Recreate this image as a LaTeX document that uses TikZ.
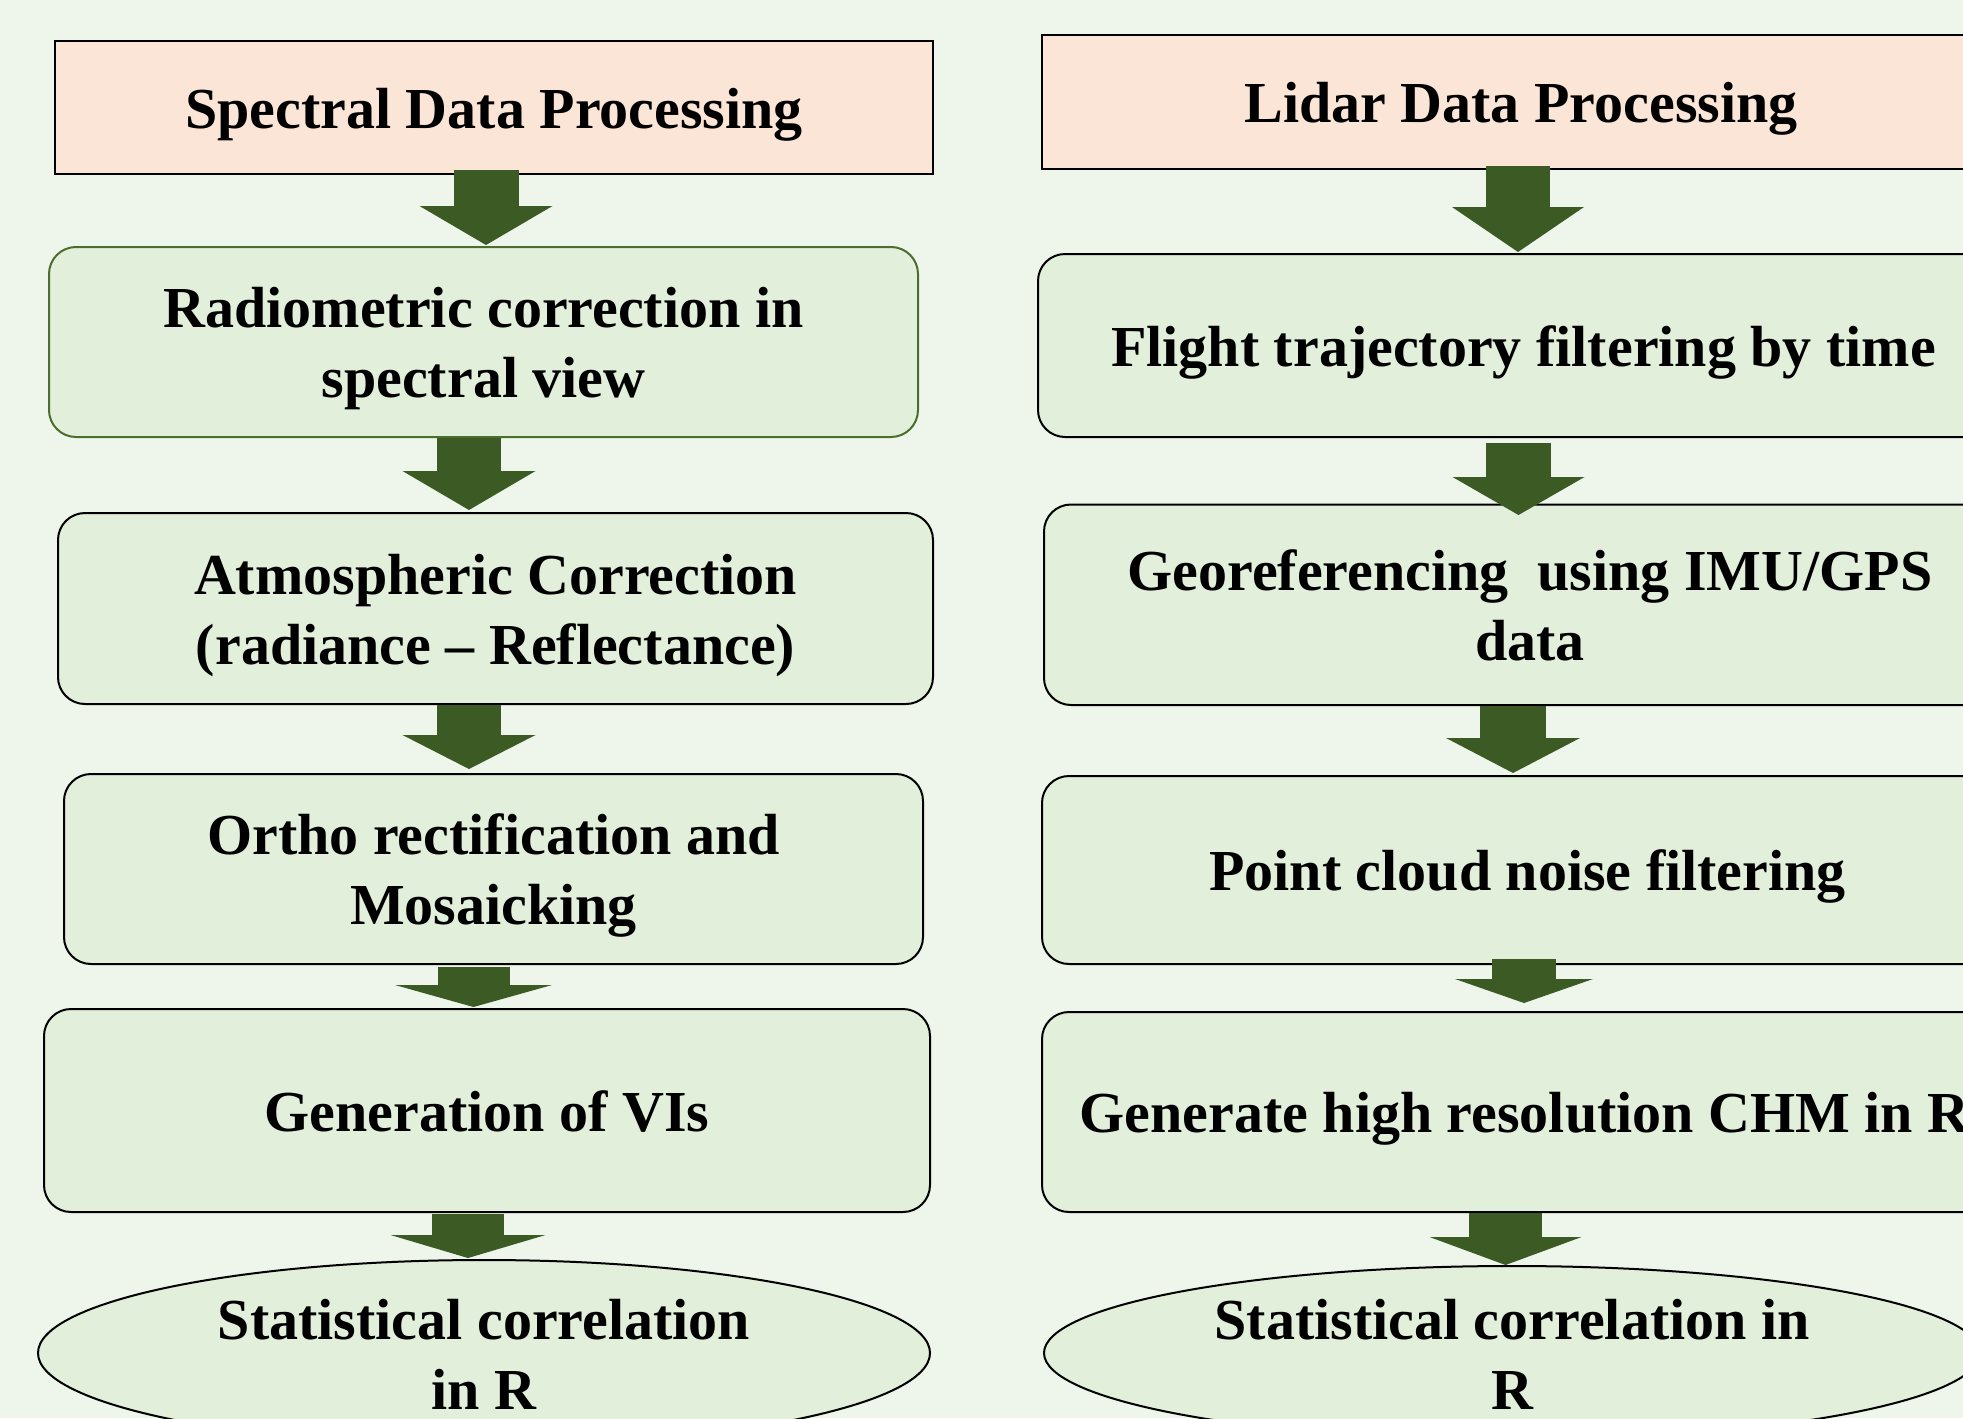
\documentclass[tikz,border=0pt]{standalone}
\usepackage{fontspec}
\setmainfont{Liberation Serif}
\usetikzlibrary{arrows.meta,shapes.geometric,calc}
\definecolor{bgc}{HTML}{EEF5EA}
\definecolor{boxc}{HTML}{E2EFDA}
\definecolor{headc}{HTML}{FBE5D6}
\definecolor{arrc}{HTML}{3B5A24}
\definecolor{edgec}{HTML}{4B6E2E}
\newcommand\sn{\rule[-6pt]{0pt}{33pt}}
\begin{document}
\begin{tikzpicture}[x=0.5pt,y=-0.5pt,
  txt/.style={font=\fontsize{29}{35}\selectfont\bfseries, align=center},
  head/.style={txt, draw=black, line width=1pt, fill=headc, inner sep=0pt},
  pbox/.style={txt, draw=black, line width=1pt, fill=boxc, rounded corners=13.5pt, inner sep=0pt},
  oval/.style={ellipse, draw=black, line width=1pt, fill=boxc, inner sep=0pt},
  blk/.style n args={3}{draw=arrc, line width=#1, -{Triangle[width=#2,length=#3,line width=0pt]}}]
\useasboundingbox (0,0) rectangle (1963,1418);
\fill[bgc] (0,0) rectangle (1963,1418);
\clip (0,0) rectangle (1963,1418);

% left column
\node[head, minimum width=439pt, minimum height=66.5pt] (hL) at (494,107.5) {\sn Spectral Data Processing};
\node[pbox, draw=edgec, minimum width=434.5pt, minimum height=95pt] (rL1) at (483.5,342) {\sn Radiometric correction in\\\sn spectral view};
\node[pbox, minimum width=437.5pt, minimum height=95.5pt] (rL2) at (495.5,608.5) {\sn Atmospheric Correction\\\sn (radiance -- Reflectance)};
\node[pbox, minimum width=429.5pt, minimum height=95pt] (rL3) at (493.5,869) {\sn Ortho rectification and\\\sn Mosaicking};
\node[pbox, minimum width=443pt, minimum height=101.5pt] (rL4) at (487,1110.5) {\sn Generation of VIs};
\node[oval, minimum width=446pt, minimum height=93pt] (eL) at (484,1353) {};
\node[txt, inner sep=0pt] (eLt) at (eL.center) {\sn Statistical correlation\\\sn in R};

% right column
\node[head, minimum width=479pt, minimum height=67pt] (hR) at (1521,102) {\sn Lidar Data Processing};
\node[pbox, minimum width=485.5pt, minimum height=91.5pt] (rR1) at (1523.5,345.5) {\sn Flight trajectory filtering by time};
\node[pbox, minimum width=486pt, minimum height=100.25pt] (rR2) at (1530,604.75) {\sn Georeferencing\ \ using IMU/GPS\\\sn data};
\node[pbox, minimum width=485.5pt, minimum height=94pt] (rR3) at (1527.5,870) {\sn Point cloud noise filtering};
\node[pbox, minimum width=482.5pt, minimum height=100pt] (rR4) at (1524.5,1112) {\sn Generate high resolution CHM in R};
\node[oval, minimum width=468pt, minimum height=87pt] (eR) at (1512,1353) {};
\node[txt, inner sep=0pt] (eRt) at (eR.center) {\sn Statistical correlation in\\\sn R};

% left arrows
\draw[blk={32.5pt}{66.5pt}{19.5pt}] ($(hL.south)+(-4pt,2.5pt)$) -- ($(rL1.north)+(1.25pt,0.5pt)$);
\draw[blk={32pt}{66.5pt}{19.5pt}] ($(rL1.south)+(-7.25pt,0pt)$) -- ($(rL2.north)+(-13.25pt,1pt)$);
\draw[blk={32pt}{66.5pt}{17pt}] ($(rL2.south)+(-13.25pt,0pt)$) -- ($(rL3.north)+(-12.25pt,2pt)$);
\draw[blk={36pt}{78.5pt}{11pt}] ($(rL3.south)+(-10pt,-1pt)$) -- ($(rL4.north)+(-6.75pt,0.5pt)$);
\draw[blk={36pt}{77.5pt}{11.5pt}] ($(rL4.south)+(-9.5pt,-0.5pt)$) -- ($(eL.north)+(-8pt,0.5pt)$);

% right arrows
\draw[blk={32pt}{66pt}{22.5pt}] ($(hR.south)+(-1.5pt,2pt)$) -- ($(rR1.north)+(-2.75pt,0.5pt)$);
\draw[blk={32.5pt}{66pt}{19pt}] ($(rR1.south)+(-2.5pt,-2.5pt)$) -- ($(rR2.north)+(-5.75pt,-5.75pt)$);
\draw[blk={33pt}{67pt}{17.5pt}] ($(rR2.south)+(-8.5pt,0pt)$) -- ($(rR3.north)+(-7.25pt,1pt)$);
\draw[blk={32pt}{69pt}{12pt}] ($(rR3.south)+(-1.75pt,3pt)$) -- ($(rR4.north)+(-0.25pt,4pt)$);
\draw[blk={36.5pt}{76pt}{14pt}] ($(rR4.south)+(-9.5pt,0pt)$) -- ($(eR.north)+(-3.25pt,0pt)$);
\end{tikzpicture}
\end{document}
